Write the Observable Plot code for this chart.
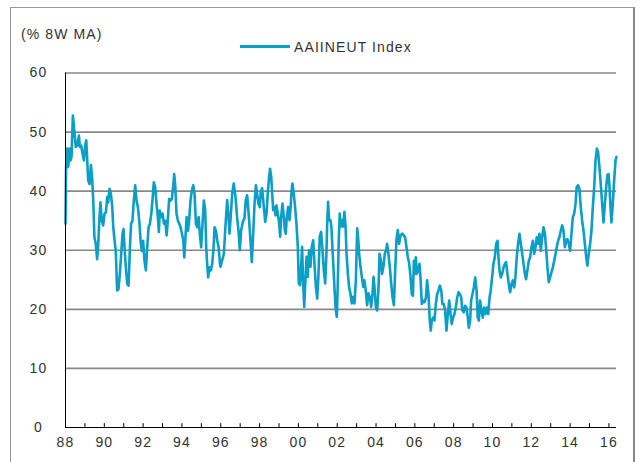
<!DOCTYPE html>
<html><head><meta charset="utf-8">
<script src="https://cdn.jsdelivr.net/npm/d3@7"></script>
<script src="https://cdn.jsdelivr.net/npm/@observablehq/plot@0.6"></script>
<style>
body{margin:0;background:#fff;}
#wrap{position:relative;width:637px;height:462px;overflow:hidden;font-family:"Liberation Sans",Arial,sans-serif;color:#333;background:#fff;}
#frame{position:absolute;left:10px;top:7px;width:622px;height:470px;border-left:1px solid #9a9a9a;border-top:1px solid #9a9a9a;border-right:2px solid #888;pointer-events:none;}
#chart{position:absolute;left:0;top:0;}
.lbl{position:absolute;font-size:14px;line-height:16px;letter-spacing:1.1px;white-space:nowrap;color:#333;}
#unit{left:21px;top:26px;}
#legline{position:absolute;left:240px;top:45px;width:50px;height:0;border-top:3px solid #0b9ec6;}
#legtext{left:294px;top:39px;}
</style></head>
<body>
<div id="wrap">
  <div id="chart"></div>
  <div id="frame"></div>
  <div class="lbl" id="unit">(% 8W MA)</div>
  <div id="legline"></div>
  <div class="lbl" id="legtext">AAIINEUT Index</div>
</div>
<script>
const seriesName = "AAIINEUT Index";
const unitLabel = "(% 8W MA)";
const weeks = [
1988.00,1988.03,1988.09,1988.14,1988.21,1988.26,1988.31,1988.38,1988.46,1988.53,1988.60,1988.69,1988.74,1988.81,1988.88,1988.95,
1989.00,1989.07,1989.12,1989.17,1989.24,1989.31,1989.37,1989.43,1989.49,1989.56,1989.63,1989.68,1989.75,1989.80,1989.87,1989.94,
1990.01,1990.08,1990.15,1990.20,1990.27,1990.34,1990.41,1990.46,1990.53,1990.59,1990.66,1990.73,1990.80,1990.87,1990.94,1990.99,
1991.04,1991.11,1991.18,1991.25,1991.32,1991.38,1991.45,1991.52,1991.59,1991.66,1991.73,1991.80,1991.87,1991.93,
1992.00,1992.07,1992.14,1992.21,1992.28,1992.35,1992.42,1992.48,1992.55,1992.62,1992.69,1992.76,1992.81,1992.86,1992.93,
1993.00,1993.07,1993.14,1993.21,1993.27,1993.34,1993.41,1993.48,1993.55,1993.60,1993.65,1993.72,1993.79,1993.86,1993.93,
1994.00,1994.07,1994.12,1994.17,1994.24,1994.31,1994.37,1994.44,1994.51,1994.58,1994.65,1994.72,1994.79,1994.86,1994.92,1994.99,
1995.06,1995.13,1995.20,1995.25,1995.30,1995.35,1995.42,1995.49,1995.56,1995.63,1995.68,1995.75,1995.82,1995.89,1995.96,1995.99,
1996.07,1996.16,1996.24,1996.33,1996.40,1996.45,1996.50,1996.59,1996.67,1996.76,1996.84,1996.93,1996.98,
1997.05,1997.14,1997.22,1997.29,1997.36,1997.45,1997.53,1997.60,1997.67,1997.74,1997.81,1997.87,1997.94,
1998.01,1998.06,1998.13,1998.22,1998.29,1998.36,1998.42,1998.49,1998.54,1998.60,1998.65,1998.70,1998.77,1998.82,1998.87,1998.94,
1999.01,1999.06,1999.11,1999.18,1999.25,1999.30,1999.35,1999.40,1999.47,1999.54,1999.59,1999.64,1999.69,1999.76,1999.83,1999.90,1999.97,
2000.02,2000.09,2000.14,2000.19,2000.24,2000.30,2000.36,2000.42,2000.48,2000.55,2000.62,2000.69,2000.76,2000.83,2000.90,2000.97,
2001.03,2001.10,2001.17,2001.24,2001.31,2001.38,2001.45,2001.48,2001.53,2001.58,2001.65,2001.70,2001.77,2001.84,2001.91,2001.98,
2002.03,2002.08,2002.13,2002.18,2002.24,2002.30,2002.37,2002.43,2002.48,2002.55,2002.61,2002.68,2002.75,2002.82,2002.89,2002.96,
2003.03,2003.08,2003.13,2003.20,2003.27,2003.34,2003.40,2003.47,2003.54,2003.61,2003.68,2003.75,2003.82,2003.87,2003.92,2003.99,
2004.06,2004.13,2004.18,2004.25,2004.31,2004.38,2004.45,2004.52,2004.57,2004.64,2004.71,2004.78,2004.85,2004.92,2004.98,
2005.05,2005.12,2005.19,2005.26,2005.35,2005.43,2005.50,2005.57,2005.64,2005.71,2005.78,2005.84,2005.90,2005.95,
2006.00,2006.05,2006.10,2006.17,2006.24,2006.29,2006.36,2006.43,2006.50,2006.57,2006.63,2006.70,2006.77,2006.82,2006.87,2006.94,
2007.01,2007.08,2007.15,2007.22,2007.29,2007.36,2007.42,2007.49,2007.56,2007.63,2007.70,2007.77,2007.84,2007.90,2007.97,
2008.04,2008.11,2008.18,2008.25,2008.32,2008.39,2008.45,2008.52,2008.59,2008.66,2008.73,2008.78,2008.85,2008.90,2008.97,
2009.04,2009.11,2009.18,2009.24,2009.30,2009.36,2009.43,2009.50,2009.57,2009.64,2009.71,2009.78,2009.85,2009.91,2009.98,
2010.05,2010.12,2010.19,2010.26,2010.31,2010.36,2010.43,2010.50,2010.57,2010.64,2010.70,2010.77,2010.84,2010.91,2010.98,
2011.05,2011.12,2011.18,2011.25,2011.32,2011.39,2011.46,2011.53,2011.60,2011.67,2011.73,2011.80,2011.87,2011.94,
2012.01,2012.08,2012.15,2012.22,2012.28,2012.35,2012.42,2012.49,2012.56,2012.63,2012.70,2012.76,2012.83,2012.90,2012.97,
2013.04,2013.11,2013.18,2013.25,2013.31,2013.38,2013.45,2013.52,2013.59,2013.66,2013.73,2013.80,2013.86,2013.93,
2014.00,2014.07,2014.14,2014.21,2014.28,2014.34,2014.41,2014.48,2014.55,2014.62,2014.69,2014.76,2014.83,2014.89,2014.96,
2015.03,2015.10,2015.17,2015.24,2015.31,2015.38,2015.44,2015.51,2015.58,2015.65,2015.72,2015.79,2015.86,2015.92,2015.98,
2016.03,2016.08,2016.13,2016.20,2016.27,2016.34,2016.39
];
const neutralPct = [
34.5,44.1,47.2,44.1,47.2,45.2,45.8,52.8,50.0,47.5,47.7,49.4,47.5,47.7,46.3,45.2,
47.5,48.6,45.2,41.8,41.2,44.4,42.4,38.4,32.2,31.1,28.5,30.5,35.6,38.1,35.0,34.2,
36.2,36.4,39.0,38.1,40.4,39.5,37.3,33.9,31.6,29.9,23.2,23.4,26.0,29.4,32.8,33.6,
30.5,27.1,24.3,24.0,30.5,34.5,35.0,38.4,41.0,38.4,37.3,35.0,31.6,29.9,
31.6,28.2,26.6,30.5,33.9,34.5,36.2,38.4,41.5,40.7,37.9,35.6,33.1,36.7,35.6,
36.2,34.5,35.0,32.5,35.0,38.7,38.4,38.7,41.0,42.9,41.2,36.2,35.0,34.5,33.9,
32.8,31.6,28.8,31.6,35.6,33.3,35.0,38.4,40.1,41.0,39.5,34.5,33.9,35.6,32.8,30.5,
34.5,38.4,36.7,30.5,27.7,25.4,27.1,26.6,27.7,30.5,33.9,33.3,31.6,30.5,27.7,27.2,
28.3,29.4,34.0,38.5,35.6,32.8,35.1,39.6,41.3,39.0,35.6,32.8,30.0,
33.4,34.8,35.4,38.5,39.3,35.6,31.7,28.0,32.8,37.9,41.0,39.6,37.9,
37.3,39.9,40.5,37.3,34.8,36.2,39.6,42.4,43.8,42.4,39.6,36.8,37.3,35.9,37.6,36.2,
34.5,32.3,35.6,37.9,35.6,33.4,32.8,35.6,37.3,35.1,36.8,39.6,41.3,39.6,37.3,34.5,30.6,
24.4,24.1,27.2,30.6,24.9,20.4,24.9,28.9,25.5,30.0,27.2,30.6,31.7,27.7,23.8,21.8,
25.5,32.3,33.1,30.0,26.6,24.4,30.0,34.2,38.2,35.1,35.1,34.0,29.4,24.9,20.4,18.7,
24.4,31.7,36.2,34.0,35.1,34.0,36.5,34.0,29.4,26.0,23.8,22.7,21.0,22.1,21.0,24.9,
33.7,32.0,29.4,27.2,25.5,23.8,24.9,23.2,20.7,22.7,22.1,20.4,22.7,25.5,23.8,20.4,
19.8,23.8,29.4,28.3,26.0,27.2,29.4,30.0,31.1,29.4,27.2,24.4,22.1,20.7,26.0,
31.7,33.4,31.1,32.5,32.8,32.5,32.2,30.5,28.8,27.7,25.4,22.6,22.3,28.2,
26.0,28.8,26.0,26.6,27.7,25.4,20.9,21.5,21.2,22.0,24.9,22.6,18.1,16.4,18.1,18.6,
18.1,20.9,22.6,23.2,24.0,23.2,20.9,20.9,19.8,16.4,19.2,21.5,19.2,17.5,18.6,
19.2,20.3,22.0,22.9,22.6,22.0,19.8,19.5,20.6,20.3,18.6,16.9,18.1,21.5,22.6,
23.7,25.4,23.2,18.6,18.1,21.5,19.8,18.6,20.3,19.2,20.3,19.2,22.0,23.2,25.4,
27.7,28.8,31.1,31.6,28.8,26.6,25.4,26.0,27.1,27.7,28.0,26.0,24.3,22.9,24.3,
24.9,23.7,25.4,28.8,31.1,32.8,31.1,29.4,27.7,26.0,25.1,26.6,28.2,28.8,
30.5,31.6,29.4,30.5,32.2,31.1,32.8,29.9,32.2,33.9,32.8,30.5,27.1,24.6,25.4,
26.3,27.1,28.2,29.4,30.5,31.6,32.2,33.3,34.2,33.3,30.5,31.6,31.9,31.1,
29.9,32.8,35.6,36.2,37.9,40.7,41.0,40.4,37.3,35.0,33.3,31.1,28.8,27.4,29.4,
31.1,33.3,37.3,40.7,45.2,47.2,46.6,44.1,41.2,37.9,34.7,37.9,40.7,42.7,42.9,
40.7,37.3,34.7,37.9,41.8,45.2,45.8
];
const yTicks = [0, 10, 20, 30, 40, 50, 60];
const gridValues = [10, 20, 30, 40, 50, 60];
const tickYears = d3.range(1988, 2017);
const labelYears = d3.range(1988, 2017, 2);
const xDomain = [1988, 2016.39];

const data = weeks.map((w, i) => ({week: w, value: neutralPct[i]}));

const chart = Plot.plot({
  width: 637, height: 462,
  marginLeft: 65, marginRight: 21, marginTop: 72.5, marginBottom: 35,
  x: {domain: xDomain},
  y: {domain: [0, 60]},
  style: {fontFamily: "'Liberation Sans', Arial, sans-serif", fontSize: "14px", color: "#333", background: "transparent", letterSpacing: "1.1px"},
  marks: [
    Plot.ruleY(gridValues, {stroke: "#888", strokeWidth: 1.6}),
    Plot.line(data, {x: "week", y: "value", stroke: "#0b9ec6", strokeWidth: 2.6, strokeLinejoin: "round", strokeLinecap: "round"}),
    Plot.ruleY([0], {stroke: "#000", strokeWidth: 1}),
    Plot.ruleX([xDomain[0]], {stroke: "#000", strokeWidth: 1}),
    Plot.ruleX(tickYears, {y1: 0, y2: 0.65, stroke: "#000", strokeWidth: 1}),
    Plot.axisX({ticks: labelYears, tickSize: 0, tickPadding: 10, tickFormat: d => String(d % 100).padStart(2, "0"), label: null}),
    Plot.axisY({ticks: yTicks, tickSize: 0, tickPadding: 27, textAnchor: "middle", label: null})
  ]
});
document.getElementById("chart").appendChild(chart);
</script>
</body></html>
